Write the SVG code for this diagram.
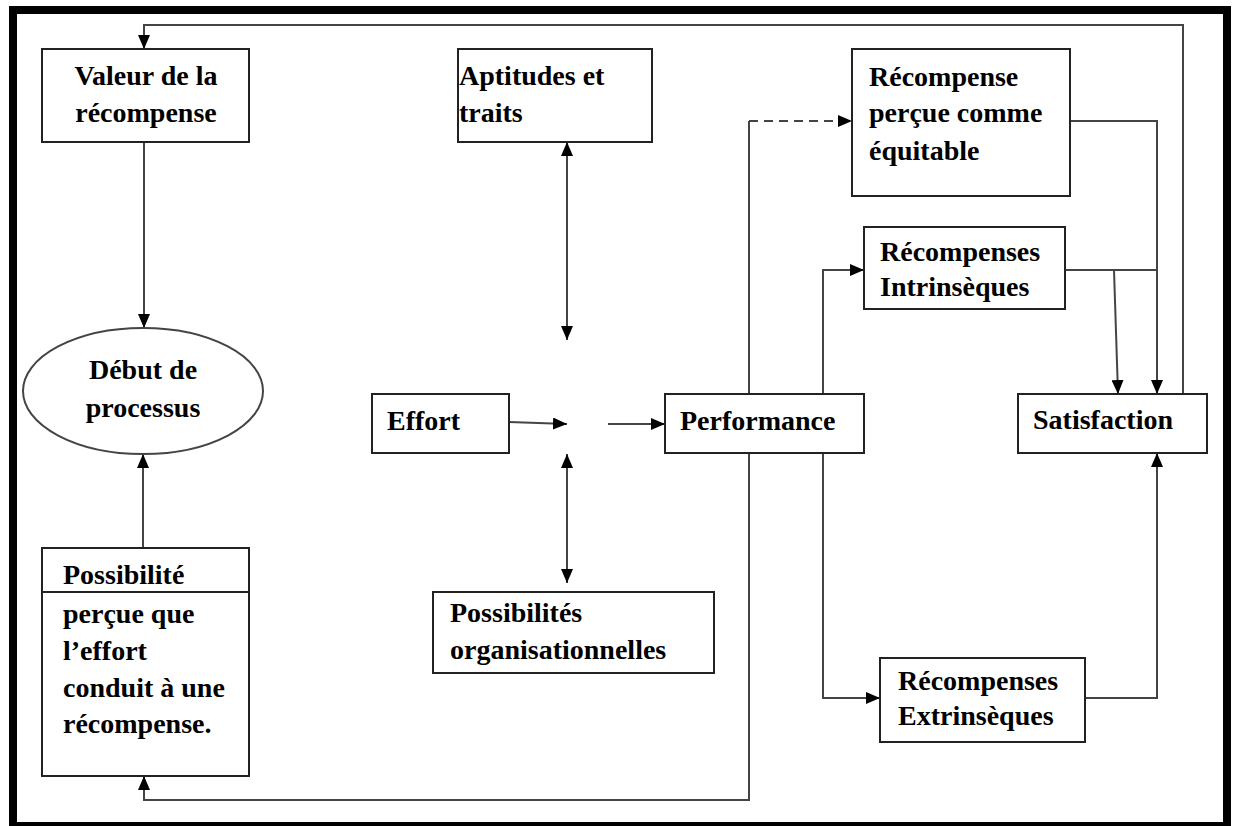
<svg xmlns="http://www.w3.org/2000/svg" width="1233" height="826" viewBox="0 0 1233 826">
  <style>
    .box { fill: #ffffff; stroke: #222222; stroke-width: 2; }
    .lbl { font-family: "Liberation Serif", "Times New Roman", serif; font-weight: bold; font-size: 28px; fill: #000000; }
    .mid { text-anchor: middle; }
    .wire { fill: none; stroke: #444444; stroke-width: 2; }
    .arrow { marker-end: url(#head); }
    .dash { stroke-dasharray: 9 6; }
  </style>
  <defs>
    <marker id="head" viewBox="0 0 14 12" refX="14" refY="6" markerWidth="14" markerHeight="12" markerUnits="userSpaceOnUse" orient="auto-start-reverse">
      <path d="M0,0 L14,6 L0,12 z" fill="#000000"/>
    </marker>
  </defs>

  <rect x="0" y="0" width="1233" height="826" fill="#ffffff"/>
  <!-- outer frame -->
  <rect x="13" y="10" width="1214" height="816" fill="none" stroke="#000000" stroke-width="8"/>

  <g id="connectors">
    <!-- feedback loop from satisfaction back to reward value -->
    <path class="wire arrow" d="M1183,394 V25 H144 V49"/>
    <path class="wire arrow" d="M144,142 V328"/>
    <path class="wire arrow" d="M143,548 V454"/>
    <!-- feedback loop from performance back to perceived probability -->
    <path class="wire arrow" d="M749,453 V800 H144 V776"/>
    <!-- abilities and organisational possibilities (two-way) -->
    <path class="wire arrow" style="marker-start: url(#head)" d="M567,142 V340"/>
    <path class="wire arrow" style="marker-start: url(#head)" d="M567,454 V583"/>
    <!-- effort to performance -->
    <path class="wire arrow" d="M509,422 L567,424"/>
    <path class="wire arrow" d="M608,424 H665"/>
    <!-- performance to perceived equitable reward -->
    <path class="wire" d="M749,394 V121"/>
    <path class="wire arrow dash" d="M749,121 H852"/>
    <!-- performance to intrinsic / extrinsic rewards -->
    <path class="wire arrow" d="M823,394 V270 H864"/>
    <path class="wire arrow" d="M823,453 V698 H880"/>
    <!-- rewards to satisfaction -->
    <path class="wire arrow" d="M1070,121 H1157 V394"/>
    <path class="wire" d="M1065,270 H1157"/>
    <path class="wire arrow" d="M1114,270 L1118,394"/>
    <path class="wire arrow" d="M1085,698 H1157 V453"/>
  </g>

  <g id="valeur">
    <rect class="box" x="42" y="49" width="207" height="93"/>
    <text class="lbl mid" x="146" y="85">Valeur de la</text>
    <text class="lbl mid" x="146" y="122">récompense</text>
  </g>

  <g id="debut">
    <ellipse cx="143" cy="391" rx="120" ry="63" fill="#ffffff" stroke="#444444" stroke-width="2"/>
    <text class="lbl mid" x="143" y="379">Début de</text>
    <text class="lbl mid" x="143" y="417">processus</text>
  </g>

  <g id="possibilite">
    <rect class="box" x="42" y="548" width="207" height="228"/>
    <line x1="42" y1="592" x2="249" y2="592" stroke="#222222" stroke-width="2"/>
    <text class="lbl" x="63" y="584">Possibilité</text>
    <text class="lbl" x="63" y="623">perçue que</text>
    <text class="lbl" x="63" y="660">l’effort</text>
    <text class="lbl" x="63" y="697">conduit à une</text>
    <text class="lbl" x="63" y="733">récompense.</text>
  </g>

  <g id="aptitudes">
    <rect class="box" x="458" y="49" width="194" height="93"/>
    <text class="lbl" x="459" y="85">Aptitudes et</text>
    <text class="lbl" x="459" y="122">traits</text>
  </g>

  <g id="effort">
    <rect class="box" x="372" y="394" width="137" height="59"/>
    <text class="lbl" x="387" y="430">Effort</text>
  </g>

  <g id="possibilites-org">
    <rect class="box" x="433" y="592" width="281" height="81"/>
    <text class="lbl" x="450" y="622">Possibilités</text>
    <text class="lbl" x="450" y="659">organisationnelles</text>
  </g>

  <g id="performance">
    <rect class="box" x="665" y="394" width="199" height="59"/>
    <text class="lbl" x="680" y="430">Performance</text>
  </g>

  <g id="equitable">
    <rect class="box" x="852" y="49" width="218" height="147"/>
    <text class="lbl" x="869" y="86">Récompense</text>
    <text class="lbl" x="869" y="122">perçue comme</text>
    <text class="lbl" x="869" y="160">équitable</text>
  </g>

  <g id="intrinseques">
    <rect class="box" x="864" y="227" width="201" height="82"/>
    <text class="lbl" x="880" y="261">Récompenses</text>
    <text class="lbl" x="880" y="296">Intrinsèques</text>
  </g>

  <g id="satisfaction">
    <rect class="box" x="1018" y="394" width="189" height="59"/>
    <text class="lbl" x="1033" y="429">Satisfaction</text>
  </g>

  <g id="extrinseques">
    <rect class="box" x="880" y="658" width="205" height="84"/>
    <text class="lbl" x="898" y="690">Récompenses</text>
    <text class="lbl" x="898" y="725">Extrinsèques</text>
  </g>
</svg>
